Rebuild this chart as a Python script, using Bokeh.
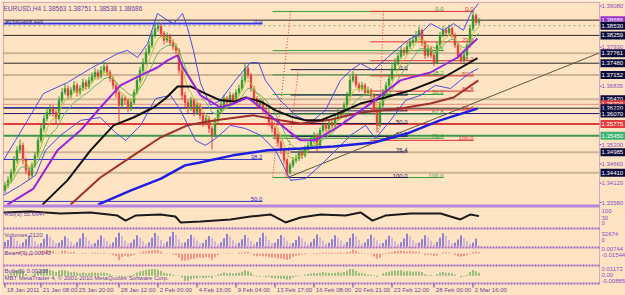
import numpy as np
from bokeh.plotting import figure
from bokeh.models import Range1d, ColumnDataSource
from bokeh.core.properties import value
from bokeh.embed import file_html
from bokeh.resources import INLINE

# ---------------- data ----------------
first_open = 1.3392
closes = [1.3406,1.3420,1.3442,1.3476,1.3504,1.3518,1.3476,1.3448,1.3434,1.3462,
1.3490,1.3532,1.3565,1.3593,1.3610,1.3621,1.3610,1.3593,1.3644,1.3666,
1.3677,1.3658,1.3672,1.3686,1.3666,1.3677,1.3694,1.3683,1.3700,1.3711,
1.3722,1.3711,1.3728,1.3739,1.3722,1.3705,1.3686,1.3666,1.3630,1.3649,
1.3644,1.3621,1.3638,1.3666,1.3700,1.3728,1.3750,1.3778,1.3798,1.3826,
1.3845,1.3851,1.3831,1.3812,1.3823,1.3806,1.3795,1.3784,1.3728,1.3658,
1.3638,1.3621,1.3644,1.3610,1.3630,1.3602,1.3582,1.3593,1.3565,1.3546,
1.3588,1.3616,1.3630,1.3649,1.3638,1.3658,1.3644,1.3666,1.3677,1.3700,
1.3733,1.3714,1.3677,1.3649,1.3630,1.3638,1.3616,1.3610,1.3582,1.3565,
1.3546,1.3526,1.3504,1.3476,1.3442,1.3462,1.3476,1.3481,1.3498,1.3490,
1.3509,1.3518,1.3532,1.3546,1.3518,1.3560,1.3574,1.3565,1.3582,1.3574,
1.3593,1.3610,1.3602,1.3630,1.3658,1.3700,1.3711,1.3688,1.3677,1.3686,
1.3666,1.3672,1.3658,1.3616,1.3574,1.3630,1.3666,1.3686,1.3705,1.3733,
1.3750,1.3767,1.3784,1.3778,1.3795,1.3806,1.3812,1.3826,1.3840,1.3806,
1.3770,1.3789,1.3770,1.3750,1.3798,1.3826,1.3840,1.3834,1.3845,1.3826,
1.3798,1.3770,1.3756,1.3770,1.3798,1.3845,1.3882,1.3862,1.3869]
highs = [1.3415,1.3431,1.3452,1.3488,1.3515,1.3534,1.3526,1.3484,1.3458,1.3470,
1.3499,1.3541,1.3576,1.3604,1.3622,1.3633,1.3630,1.3618,1.3655,1.3678,
1.3690,1.3685,1.3681,1.3698,1.3693,1.3687,1.3705,1.3702,1.3710,1.3722,
1.3734,1.3730,1.3740,1.3752,1.3746,1.3729,1.3712,1.3692,1.3672,1.3660,
1.3657,1.3650,1.3647,1.3675,1.3710,1.3738,1.3762,1.3790,1.3810,1.3838,
1.3858,1.3864,1.3860,1.3838,1.3834,1.3830,1.3815,1.3803,1.3790,1.3735,
1.3668,1.3646,1.3654,1.3650,1.3640,1.3636,1.3610,1.3603,1.3600,1.3572,
1.3596,1.3625,1.3641,1.3660,1.3656,1.3668,1.3664,1.3675,1.3688,1.3712,
1.3746,1.3740,1.3720,1.3684,1.3656,1.3648,1.3645,1.3625,1.3617,1.3590,
1.3572,1.3553,1.3533,1.3510,1.3482,1.3470,1.3486,1.3492,1.3508,1.3505,
1.3518,1.3528,1.3542,1.3556,1.3552,1.3568,1.3585,1.3582,1.3592,1.3590,
1.3603,1.3620,1.3618,1.3640,1.3668,1.3712,1.3726,1.3718,1.3695,1.3696,
1.3692,1.3682,1.3678,1.3664,1.3622,1.3638,1.3676,1.3696,1.3716,1.3745,
1.3762,1.3778,1.3796,1.3792,1.3806,1.3818,1.3824,1.3838,1.3850,1.3846,
1.3812,1.3800,1.3796,1.3776,1.3808,1.3836,1.3852,1.3848,1.3856,1.3852,
1.3832,1.3805,1.3776,1.3780,1.3806,1.3856,1.3896,1.3888,1.3875]
lows = [1.3384,1.3398,1.3412,1.3436,1.3468,1.3495,1.3465,1.3437,1.3420,1.3427,
1.3455,1.3483,1.3525,1.3556,1.3585,1.3600,1.3598,1.3577,1.3588,1.3636,
1.3659,1.3646,1.3650,1.3665,1.3655,1.3658,1.3670,1.3674,1.3676,1.3692,
1.3704,1.3702,1.3705,1.3720,1.3713,1.3696,1.3675,1.3652,1.3580,1.3622,
1.3633,1.3610,1.3614,1.3632,1.3660,1.3693,1.3720,1.3744,1.3770,1.3790,
1.3818,1.3836,1.3822,1.3800,1.3805,1.3797,1.3785,1.3773,1.3718,1.3645,
1.3625,1.3608,1.3614,1.3600,1.3603,1.3590,1.3570,1.3575,1.3552,1.3506,
1.3540,1.3580,1.3608,1.3622,1.3628,1.3630,1.3635,1.3637,1.3658,1.3670,
1.3694,1.3705,1.3668,1.3640,1.3620,1.3622,1.3606,1.3600,1.3572,1.3554,
1.3535,1.3515,1.3494,1.3465,1.3428,1.3436,1.3455,1.3468,1.3474,1.3480,
1.3484,1.3500,1.3512,1.3524,1.3500,1.3512,1.3552,1.3556,1.3558,1.3566,
1.3568,1.3586,1.3594,1.3596,1.3624,1.3652,1.3694,1.3680,1.3668,1.3670,
1.3656,1.3660,1.3648,1.3605,1.3554,1.3568,1.3624,1.3660,1.3678,1.3698,
1.3726,1.3742,1.3760,1.3768,1.3771,1.3788,1.3798,1.3805,1.3818,1.3796,
1.3760,1.3764,1.3762,1.3740,1.3745,1.3790,1.3820,1.3826,1.3828,1.3818,
1.3790,1.3760,1.3745,1.3748,1.3764,1.3792,1.3838,1.3855,1.3854]
volumes = [9800,14200,21500,18300,12400,6200, 8900,15800,24100,19800,11200,5400,
7600,16900,26800,21300,13500,6900, 8200,13600,22400,17900,10800,4800,
9100,17400,28900,20500,12600,5900, 7300,14800,23700,18200,11900,6100,
8800,19600,30200,22700,13100,6800, 7900,15200,24600,19100,12200,5600,
9400,18800,29500,23900,14400,7200, 10200,21600,32100,25300,15800,7800,
8600,16400,25800,20200,12900,6400, 7700,14900,22800,18600,11500,5700,
9300,17800,27400,21900,13800,6600, 8100,15600,24900,19400,12100,5800,
9900,19200,29800,23400,14900,7400, 8400,16200,25200,19800,12700,6300,
7500,14100,21900,17600,11100,5200, 9000,17100,26300,20800,13200,6700,
8300,15900,24300,19000,12300,6000, 9600,18400,28100,22300,14100,7000,
8700,16600,25600,20100,12800,6500, 7800,15300,23500,18800,11700,5500,
9200,17600,27800,21600,13600,6900, 8500,16000,24700,19500,12500,6200,
9700,18900,29100,22900,14600,7300, 8000,15500,23900,18400,11800,5900,
8900,16800,2120]

date_idx = [0, 12, 24, 38, 51, 64, 77, 90, 103, 116, 129, 143, 156]
date_labels = ["18 Jan 2011", "21 Jan 08:00", "25 Jan 20:00", "28 Jan 12:00", "2 Feb 00:00",
               "4 Feb 16:00", "9 Feb 04:00", "13 Feb 17:00", "16 Feb 08:00", "20 Feb 21:00",
               "23 Feb 12:00", "28 Feb 00:00", "2 Mar 16:00"]

price_ticks = [1.39080, 1.37930, 1.36835, 1.35200, 1.34660, 1.34120, 1.33580]
price_tick_labels = ["1.39080", "1.37930", "1.36835", "1.35200", "1.34660", "1.34120", "1.33580"]

# horizontal chart objects (price, line style, label box colour)
level_prices = [1.38686, 1.38530, 1.38259, 1.37761, 1.37480, 1.37152, 1.36470,
                1.36330, 1.36220, 1.36070, 1.35775, 1.35450, 1.34985, 1.34410]
level_styles = ["dark", "order", "dark", "tan", "dark", "tan", "tan",
                "reddot", "dark", "navy", "red", "green", "tan", "tan"]
level_boxes = ["purple", "dark", "dark", "dark", "dark", "dark", "dark",
               "red", "dark", "dark", "red", "green", "dark", "dark"]

# moving averages (bar index, price)
ma_blue_x = [31, 42, 52, 60, 65, 76, 87.5, 98.5, 109.5, 123, 134, 145, 157.5]
ma_blue_y = [1.3352, 1.3392, 1.3425, 1.3462, 1.3470, 1.3490, 1.3504, 1.3509, 1.3515, 1.3526, 1.3551, 1.3588, 1.3621]
ma_black_x = [12.5, 20.8, 28.5, 36.2, 42.8, 49.5, 53.5, 57.5, 61.8, 66.8, 71.8, 76.8, 80.2, 85.2, 90.2,
              95.2, 100.2, 105.2, 111.8, 118.5, 126.8, 135.2, 146.2, 157.5]
ma_black_y = [1.3352, 1.3420, 1.3504, 1.3574, 1.3596, 1.3624, 1.3649, 1.3683, 1.3683, 1.3663, 1.3644, 1.3641,
              1.3652, 1.3641, 1.3616, 1.3599, 1.3588, 1.3588, 1.3610, 1.3635, 1.3652, 1.3672, 1.3708, 1.3762]
ma_brown_x = [21.8, 31.8, 42.8, 51.8, 60.8, 70.2, 82.8, 91.8, 98.5, 108.5, 118.5, 131.8, 141.8, 149.5, 157.8]
ma_brown_y = [1.3352, 1.3428, 1.3490, 1.3540, 1.3574, 1.3588, 1.3602, 1.3588, 1.3579, 1.3590, 1.3610,
              1.3621, 1.3635, 1.3652, 1.3700]
ma_purple_x = [0.8, 9.5, 17.5, 25.2, 31.8, 38.5, 45.2, 50.8, 54.2, 57.5, 59.5, 65.2, 71.8, 76.2, 80.8,
               85.2, 94.2, 98.5, 103.5, 111.8, 121.8, 131.8, 141.8, 150.8, 157.5]
ma_purple_y = [1.3352, 1.3397, 1.3504, 1.3560, 1.3624, 1.3686, 1.3714, 1.3736, 1.3756, 1.3770, 1.3733,
               1.3658, 1.3624, 1.3635, 1.3652, 1.3624, 1.3560, 1.3532, 1.3532, 1.3574, 1.3635, 1.3700,
               1.3722, 1.3764, 1.3817]
bb_up_x = [-0.5, 3.5, 8.5, 12.8, 20.8, 28.5, 37.5, 40.8, 44.2, 47.5, 50.8, 54.2, 56.2, 59.2, 60.8, 62.8,
           65.2, 68.5, 71.8, 76.8, 81.8, 84.5, 86.8, 91.8, 96.8, 101.8, 106.8, 111.8, 115.2, 118.5,
           122.8, 127.5, 134.2, 138.5, 141.8, 146.2, 149.5, 152.8, 155.2, 157.8]
bb_up_y = [1.3476, 1.3532, 1.3602, 1.3663, 1.3694, 1.3733, 1.3775, 1.3784, 1.3764, 1.3803, 1.3887, 1.3868,
           1.3859, 1.3887, 1.3848, 1.3784, 1.3691, 1.3630, 1.3644, 1.3700, 1.3750, 1.3750, 1.3700, 1.3644,
           1.3602, 1.3582, 1.3616, 1.3700, 1.3728, 1.3747, 1.3728, 1.3764, 1.3812, 1.3831, 1.3859, 1.3840,
           1.3859, 1.3840, 1.3887, 1.3915]
bb_lo_x = [-0.5, 5.2, 10.2, 13.5, 18.5, 25.2, 31.8, 36.8, 40.2, 45.2, 50.2, 55.2, 58.5, 63.5, 66.8, 70.2,
           75.2, 80.2, 85.2, 90.2, 95.2, 100.2, 105.2, 110.2, 115.2, 120.2, 123.5, 128.5, 133.5, 138.5,
           143.5, 148.5, 151.8, 155.2, 157.8]
bb_lo_y = [1.3378, 1.3406, 1.3434, 1.3504, 1.3546, 1.3588, 1.3596, 1.3554, 1.3532, 1.3574, 1.3649, 1.3658,
           1.3616, 1.3532, 1.3518, 1.3537, 1.3574, 1.3565, 1.3546, 1.3504, 1.3420, 1.3425, 1.3462, 1.3504,
           1.3546, 1.3574, 1.3537, 1.3588, 1.3644, 1.3658, 1.3686, 1.3677, 1.3700, 1.3722, 1.3733]
rsi_x = [-0.5, 8.5, 18.5, 28.5, 37.5, 40.2, 43.5, 51.8, 56.8, 58.5, 65.2, 75.2, 81.8, 88.5, 93.5, 98.5,
         105.2, 113.5, 118.5, 122.5, 126.8, 135.2, 145.2, 151.8, 155.2, 158]
rsi_y = [76, 81, 70, 76, 59, 32, 59, 65, 54, 22, 27, 38, 54, 65, 22, 49, 65, 59, 76, 32, 59, 70, 70, 38, 65, 56]

# Fibonacci objects: price at 0 % and 100 %, bar-index extent, trend-line anchors, colour
fib_levels = [0.0, 23.6, 38.2, 50.0, 61.8, 76.4, 100.0]
fibs = [
    dict(p0=1.3859, p100=1.2863, xa=-0.5, xb=85.8, col="#3434C8", anchor=None),
    dict(p0=1.3893, p100=1.3428, xa=89.2, xb=146.2, col="#3A9A3A", anchor=(95.2, 89.2)),
    dict(p0=1.3730, p100=1.3428, xa=95.2, xb=134.2, col="#1A1A50", anchor=(97.8, 93.5)),
    dict(p0=1.3893, p100=1.3532, xa=121.8, xb=156.2, col="#E03030", anchor=(126.2, 124.5)),
]
trend_x = [94.2, 198.2]
trend_y = [1.3428, 1.3777]

# ---------------- layout helpers ----------------
W, H = 625, 295
PXW = 3.0          # pixels per bar
X0 = -1.5          # bar index at left canvas edge
P_TOP, PPX = 1.39236, 0.00028   # price at top canvas row, price per pixel
BG = "#FFE4C4"
TXT = "#6B3FA0"
AX = "#8A4FC8"
FONT = value("Liberation Sans")
FS = "6.5px"
FSA = "6px"


def xi(px):
    return X0 + px / PXW


def band(v0, y0, v1, y1):
    s = (v1 - v0) / (y0 - y1)
    return Range1d(v0 + (y0 - H) * s, v0 + y0 * s)


p = figure(width=W, height=H, x_range=Range1d(X0, X0 + W / PXW),
           y_range=Range1d(P_TOP - PPX * H, P_TOP),
           output_backend="svg", toolbar_location=None,
           x_axis_location=None, y_axis_location=None, min_border=0,
           background_fill_color=BG, border_fill_color=BG, outline_line_color=None)
p.title.visible = False
p.xgrid.visible = False
p.ygrid.visible = False
p.extra_y_ranges = {
    "px": Range1d(H, 0),
    "rsi": band(0, 226, 100, 207.5),
    "vol": band(0, 246, 32674, 231),
    "bears": band(-0.01544, 263, 0.00744, 248),
    "bulls": band(-0.00885, 282, 0.01172, 266.5),
}

XL, XR = xi(3), xi(599)

# ---- horizontal objects ----
STY = {"dark": ("#2A2A2A", 1, "solid"), "order": ("#8FA878", 1, "2 3"),
       "tan": ("#9A8468", 2, "1 1"), "reddot": ("#D23030", 1, "1 1"),
       "navy": ("#1A1A70", 1, "solid"), "red": ("#E03A3A", 2, "solid"),
       "green": ("#3A9A4A", 2, "solid")}
for pr, st in zip(level_prices, level_styles):
    c, w, d = STY[st]
    p.segment([XL], [pr], [XR], [pr], line_color=c, line_width=w, line_dash=d)

# ---- fibonacci objects ----
for f in fibs:
    if f["anchor"] is None:
        p.segment([f["xa"]], [f["p0"]], [f["xb"]], [f["p0"]], line_color="#9C9CF0", line_width=3)
    for lv in fib_levels:
        pr = f["p0"] + (f["p100"] - f["p0"]) * lv / 100.0
        if pr < P_TOP - PPX * 204:
            continue
        p.segment([f["xa"]], [pr], [f["xb"]], [pr], line_color=f["col"], line_width=1)
        if f["anchor"] is None and lv == 23.6:
            continue
        p.text([f["xb"]], [pr], text=["%.1f" % lv], text_font=FONT, text_font_size=FSA,
               text_color=f["col"], text_align="right", text_baseline="bottom")
    if f["anchor"] is not None:
        p.line(list(f["anchor"]), [f["p0"], f["p100"]], line_color="#E03030", line_width=1, line_dash="1 2")

p.line(trend_x, trend_y, line_color="#5E5638", line_width=1)

# ---- candles ----
idx = np.arange(len(closes))
opens = [first_open] + closes[:-1]
cols = ["#2E9A2E" if c >= o else "#E83C3C" for o, c in zip(opens, closes)]
src = ColumnDataSource(dict(x=idx, h=highs, l=lows, top=np.maximum(opens, closes),
                            bot=np.minimum(opens, closes), col=cols))
p.segment("x", "h", "x", "l", line_color="col", line_width=1, source=src)
p.vbar(x="x", width=0.6, top="top", bottom="bot", fill_color="col", line_color="col",
       line_width=0.5, source=src)


def ema(vals, n):
    a = 2.0 / (n + 1)
    out = [vals[0]]
    for v in vals[1:]:
        out.append(out[-1] + a * (v - out[-1]))
    return np.array(out)


# ---- indicators on price ----
p.line(idx, ema(closes, 5), line_color="#B5C42A", line_width=1)
p.line(idx, ema(closes, 10), line_color="#5FB85F", line_width=1)
p.line(bb_up_x, bb_up_y, line_color="#4A4AE0", line_width=1)
p.line(bb_lo_x, bb_lo_y, line_color="#4A4AE0", line_width=1)
p.line(ma_brown_x, ma_brown_y, line_color="#A0302A", line_width=2)
p.line(ma_blue_x, ma_blue_y, line_color="#1E1EE0", line_width=2.5)
p.line(ma_black_x, ma_black_y, line_color="#101010", line_width=2)
p.line(ma_purple_x, ma_purple_y, line_color="#9A22D8", line_width=2)

# ---- texts in main window ----
p.text([xi(3)], [4], text=["EURUSD,H4  1.38563 1.38751 1.38538 1.38686"], y_range_name="px",
       text_font=FONT, text_font_size=FS, text_color=TXT, text_baseline="top")
p.text([xi(5)], [level_prices[1]], text=["#1560468 sell"], text_font=FONT, text_font_size=FSA,
       text_color="#3A2A80", text_baseline="bottom", y_offset=-1)

# ---- price scale ----
LX = xi(601)
p.segment([XR] * len(price_ticks), price_ticks, [xi(601)] * len(price_ticks), price_ticks, line_color=AX)
p.text([LX] * len(price_ticks), price_ticks, text=price_tick_labels, text_font=FONT,
       text_font_size=FSA, text_color=AX, text_baseline="middle")
BOX = {"purple": "#9932CC", "dark": "#0B0B3B", "red": "#E03C3C", "green": "#3CB371"}
for pr, b in zip(level_prices, level_boxes):
    p.quad(left=[xi(600)], right=[xi(640)], top=[pr + 4 * PPX], bottom=[pr - 4 * PPX],
           fill_color=BOX[b], line_color=None)
    p.text([LX], [pr], text=["%.5f" % pr], text_font=FONT, text_font_size=FSA,
           text_color="#FFFFFF", text_baseline="middle")

# ---- RSI ----
p.segment([XL, XL], [30, 70], [XR, XR], [30, 70], y_range_name="rsi", line_color="#FFFFFF",
          line_dash="1 3", line_width=1)
p.line(rsi_x, rsi_y, y_range_name="rsi", line_color="#1A1A1A", line_width=2)

# ---- volumes ----
vcol = ["#2828E0" if i == 0 or volumes[i] >= volumes[i - 1] else "#A98BE8" for i in range(len(volumes))]
p.vbar(x=idx, width=0.35, top=volumes, bottom=0, y_range_name="vol", fill_color=vcol, line_color=None)

# ---- bears / bulls power (9) ----
e9 = ema(closes, 9)
bears = np.clip(np.array(lows) - e9, -0.0154, 0.0074)
bulls = np.clip(np.array(highs) - e9, -0.0088, 0.0117)
p.vbar(x=idx, width=0.35, top=bears, bottom=0, y_range_name="bears", fill_color="#E85050", line_color=None)
p.vbar(x=idx, width=0.35, top=bulls, bottom=0, y_range_name="bulls", fill_color="#3A9A3A", line_color=None)

# ---- window frames ----
p.segment([XL], [205.5], [XR], [205.5], y_range_name="px", line_color="#B585DD", line_width=3)
sep = [228, 247, 265, 283]
p.segment([XL] * 4, sep, [XR] * 4, sep, y_range_name="px", line_color="#A064C8", line_width=2, line_dash="2 1")
p.segment([XL], [2], [XR], [2], y_range_name="px", line_color="#B070C0", line_width=1, line_dash="1 1")
p.segment([XL, XR], [2, 2], [XL, XR], [284, 284], y_range_name="px", line_color="#B070C0",
          line_width=1, line_dash="1 1")

# ---- sub-window texts ----
sub_txt = ["RSI(9) 55.6647", "Volumes 2120", "Bears(9) 0.00140", "Bulls(9) 0.00208",
           "MBT MetaTrader 4, \u00a9 2001-2010 MetaQuotes Software Corp."]
sub_y = [213, 234, 252.5, 270, 277]
p.text([xi(4)] * len(sub_txt), sub_y, text=sub_txt, y_range_name="px", text_font=FONT,
       text_font_size=FSA, text_color=TXT, text_baseline="middle")
sub_ax = ["100", "30", "0", "32674", "0", "0.00744", "-0.01544", "0.01172", "0.00", "-0.00885"]
sub_ax_y = [210, 217.5, 222.5, 233, 239.5, 248.5, 254, 268, 274.5, 280]
p.text([LX] * len(sub_ax), sub_ax_y, text=sub_ax, y_range_name="px", text_font=FONT,
       text_font_size=FSA, text_color=AX, text_baseline="middle")

# ---- time scale ----
p.segment(date_idx, [283] * len(date_idx), date_idx, [287] * len(date_idx), y_range_name="px",
          line_color=TXT)
p.text([d + 0.6 for d in date_idx], [289.5] * len(date_idx), text=date_labels, y_range_name="px",
       text_font=FONT, text_font_size=FSA, text_color=TXT, text_baseline="middle")

open("out.html", "w").write(file_html(p, INLINE))
